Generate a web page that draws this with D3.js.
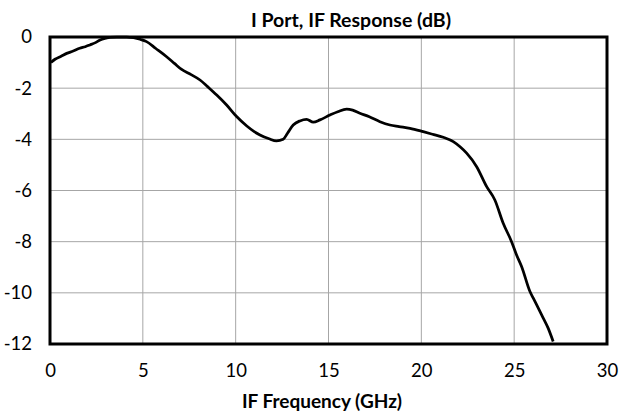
<!DOCTYPE html>
<html>
<head>
<meta charset="utf-8">
<script src="https://cdn.jsdelivr.net/npm/d3@7"></script>
<style>
  body { margin: 0; background: #fff; }
  text { font-family: Lato, "Open Sans", sans-serif; fill: #000; }
</style>
</head>
<body>
<svg width="622" height="419"></svg>
<script>
// IF frequency (GHz) and response (dB)
var freq = [0.05, 0.27, 0.6, 0.9, 1.25, 1.6, 1.9, 2.15, 2.45, 2.7, 3.0, 3.23, 3.6, 4.13, 4.5, 4.85, 5.2,
  5.7, 6.28, 6.7, 7.09, 7.6, 8.08, 8.5, 8.98, 9.5, 10.05, 10.6, 11.0, 11.31, 11.8, 12.2, 12.56,
  12.8, 13.1, 13.46, 13.82, 14.18, 14.54, 15.08, 15.5, 15.98, 16.3, 16.69, 17.2, 17.77, 18.31,
  18.8, 19.39, 20.1, 20.6, 21.18, 21.72, 22.1, 22.44, 22.98, 23.52, 23.96, 24.41, 24.86, 25.13,
  25.4, 25.85, 26.03, 26.48, 26.83, 27.1];
var resp = [-1.0, -0.87, -0.75, -0.64, -0.55, -0.44, -0.38, -0.31, -0.22, -0.12, -0.05, -0.01, 0.0, 0.0, -0.03, -0.09, -0.18,
  -0.45, -0.77, -1.03, -1.27, -1.47, -1.68, -1.95, -2.27, -2.65, -3.11, -3.48, -3.7, -3.83, -3.98, -4.06, -4.0,
  -3.75, -3.44, -3.28, -3.22, -3.33, -3.24, -3.05, -2.92, -2.82, -2.86, -2.98, -3.12, -3.31, -3.44,
  -3.5, -3.57, -3.7, -3.8, -3.92, -4.09, -4.3, -4.54, -5.07, -5.85, -6.37, -7.28, -8.0, -8.52,
  -8.97, -9.95, -10.21, -10.86, -11.38, -11.9];
var xTicks = [0, 5, 10, 15, 20, 25, 30];
var yTicks = [0, -2, -4, -6, -8, -10, -12];

var svg = d3.select('svg'),
  plotL = 50, plotR = 607, plotT = 37, plotB = 344;

var x = d3.scaleLinear().domain([0, 30]).range([plotL, plotR]);
var y = d3.scaleLinear().domain([-12, 0]).range([plotB, plotT]);

// grid
svg.append('g').selectAll('line')
  .data(xTicks.slice(1, -1))
  .enter().append('line')
  .attr('x1', function(d) { return x(d); }).attr('x2', function(d) { return x(d); })
  .attr('y1', plotT).attr('y2', plotB)
  .attr('stroke', '#a6a6a6').attr('stroke-width', 1);
svg.append('g').selectAll('line')
  .data(yTicks.slice(1, -1))
  .enter().append('line')
  .attr('x1', plotL).attr('x2', plotR)
  .attr('y1', function(d) { return y(d); }).attr('y2', function(d) { return y(d); })
  .attr('stroke', '#a6a6a6').attr('stroke-width', 1);

// axes (labels only)
var xAxis = svg.append('g')
  .attr('transform', 'translate(0,' + plotB + ')')
  .call(d3.axisBottom(x).tickValues(xTicks).tickSize(0).tickPadding(20));
var yAxis = svg.append('g')
  .attr('transform', 'translate(' + plotL + ',0)')
  .call(d3.axisLeft(y).tickValues(yTicks).tickSize(0).tickPadding(18)
    .tickFormat(function(d) { return d === 0 ? '0' : '-' + Math.abs(d); }));
[xAxis, yAxis].forEach(function(a) {
  a.select('.domain').remove();
  a.selectAll('text').style('font-size', '18.5px').style('font-family', 'Lato, sans-serif');
});

// frame
svg.append('rect')
  .attr('x', plotL).attr('y', plotT)
  .attr('width', plotR - plotL).attr('height', plotB - plotT)
  .attr('fill', 'none').attr('stroke', '#000').attr('stroke-width', 3);

// curve
var line = d3.line()
  .x(function(d, i) { return x(freq[i]); })
  .y(function(d) { return y(d); })
  .curve(d3.curveMonotoneX);
svg.append('path')
  .datum(resp)
  .attr('d', line)
  .attr('fill', 'none')
  .attr('stroke', '#000')
  .attr('stroke-width', 2.75)
  .attr('stroke-linejoin', 'round');

// titles
svg.append('text')
  .attr('x', 351).attr('y', 27)
  .attr('text-anchor', 'middle')
  .style('font-size', '19.5px').style('font-weight', 'bold')
  .text('I Port, IF Response (dB)');
svg.append('text')
  .attr('x', 322).attr('y', 408)
  .attr('text-anchor', 'middle')
  .style('font-size', '19px').style('font-weight', 'bold')
  .text('IF Frequency (GHz)');
</script>
</body>
</html>
